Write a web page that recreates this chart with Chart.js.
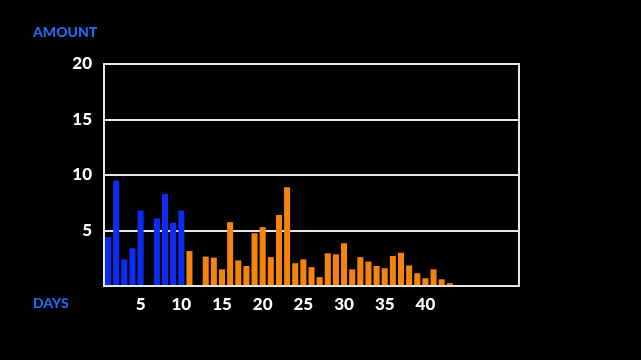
<!DOCTYPE html>
<html>
<head>
<meta charset="utf-8">
<script src="https://cdn.jsdelivr.net/npm/chart.js@4"></script>
<style>
  html, body { margin: 0; padding: 0; background: #000; }
  #wrap { width: 641px; height: 360px; position: relative; }
</style>
</head>
<body>
<div id="wrap"><canvas id="amountChart" width="641" height="360"></canvas></div>
<script>
// days on the x axis (category labels), only multiples of 5 up to 40 get a tick label
const days = ['1','2','3','4','5','6','7','8','9','10','11','12','13','14','15','16','17','18','19','20',
  '21','22','23','24','25','26','27','28','29','30','31','32','33','34','35','36','37','38','39','40',
  '41','42','43','44','45','46','47','48','49','50','51'];

// amount per day
const amounts = [4.4, 9.5, 2.4, 3.4, 6.8, 0, 6.1, 8.3, 5.7, 6.8,
  3.15, 0, 2.65, 2.55, 1.5, 5.75, 2.3, 1.8, 4.75, 5.3,
  2.6, 6.4, 8.9, 2.05, 2.4, 1.7, 0.8, 2.95, 2.85, 3.85,
  1.5, 2.6, 2.2, 1.8, 1.6, 2.7, 3.0, 1.85, 1.15, 0.7,
  1.5, 0.6, 0.25];

const blueDays = 10;   // first days drawn in blue, rest orange
const yTicks = [5, 10, 15, 20];
const xTicks = [5, 10, 15, 20, 25, 30, 35, 40];

const BLUE = '#0c2cf2';
const ORANGE = '#f5840f';
const LABEL_BLUE = '#1f6cf0';

const frame = {
  id: 'frame',
  afterDraw(chart) {
    const { ctx, chartArea: a } = chart;
    ctx.save();
    ctx.strokeStyle = '#e6e6e6';
    ctx.lineWidth = 2;
    ctx.strokeRect(a.left, a.top, a.right - a.left, a.bottom - a.top);
    ctx.fillStyle = LABEL_BLUE;
    ctx.font = '900 14px Lato';
    ctx.textBaseline = 'middle';
    ctx.fillText('AMOUNT', 33, 32);
    ctx.fillText('DAYS', 33, 303);
    ctx.restore();
  }
};

const ctx = document.getElementById('amountChart').getContext('2d');
new Chart(ctx, {
  type: 'bar',
  data: {
    labels: days,
    datasets: [{
      data: amounts,
      backgroundColor: c => c.dataIndex < blueDays ? BLUE : ORANGE,
      barPercentage: 0.74,
      categoryPercentage: 1
    }]
  },
  options: {
    responsive: false,
    animation: false,
    layout: { padding: { left: 0, right: 122, top: 64, bottom: 0 } },
    plugins: { legend: { display: false }, tooltip: { enabled: false } },
    scales: {
      y: {
        min: 0, max: 20,
        afterFit: s => { s.width = 104; },
        afterBuildTicks: s => { s.ticks = [0].concat(yTicks).map(v => ({ value: v })); },
        ticks: {
          color: '#fff',
          padding: 12,
          font: { family: 'Lato', weight: '900', size: 17 },
          callback: v => v === 0 ? '' : v
        },
        grid: { color: '#e6e6e6', lineWidth: 2, drawTicks: false },
        border: { display: false }
      },
      x: {
        afterFit: s => { s.height = 74; },
        ticks: {
          color: '#fff',
          padding: 8,
          autoSkip: false,
          maxRotation: 0,
          font: { family: 'Lato', weight: '900', size: 17 },
          callback: (v, i) => xTicks.includes(Number(days[i])) ? days[i] : ''
        },
        grid: { display: false, drawTicks: false },
        border: { display: false }
      }
    }
  },
  plugins: [frame]
});
</script>
</body>
</html>
